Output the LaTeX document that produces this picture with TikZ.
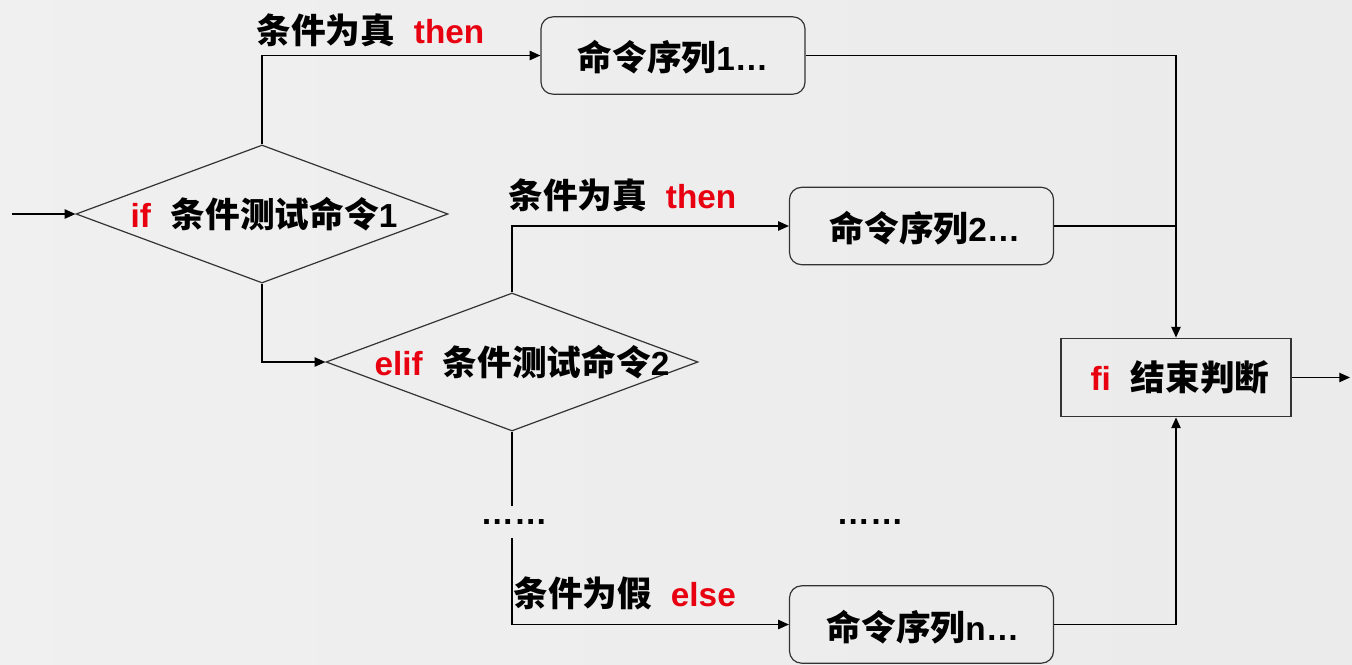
\documentclass[tikz,border=0pt]{standalone}
\usepackage{fontspec}
\setmainfont{Liberation Sans}
\newfontfamily\cjk{Noto Sans CJK SC}[Scale=1.04]
\usepackage{tikz}
\usetikzlibrary{shapes}
\usetikzlibrary{arrows.meta}
\usetikzlibrary{positioning}
\definecolor{kwred}{RGB}{232,0,16}
\newcommand \zh [1] {{\cjk #1}}
\newcommand \kw [1] {{\color{kwred}#1}}
\tikzstyle{cond}=[diamond,draw=black!80,inner sep=0mm,minimum width=279pt,minimum height=103.5pt]
\tikzstyle{cmd}=[rectangle,rounded corners=9pt,draw=black!80,minimum width=198pt,minimum height=58pt]
\tikzstyle{endbox}=[rectangle,draw=black!80,minimum width=172.5pt,minimum height=59pt]
\tikzstyle{txt}=[font=\bfseries\fontsize{25}{30}\selectfont,inner sep=0mm]
\tikzstyle{arrow}=[-{Triangle[length=8pt,width=7pt]}]
\tikzset{every picture/.style={
    line width=0.9pt
  }
}

\begin{document}
\begin{tikzpicture}[x=0.75pt,y=-0.75pt]
        \shade[left color=gray!12,middle color=gray!3,right color=gray!16] (0,0) rectangle (1352,664);
        \useasboundingbox (0,0) rectangle (1352,664);
        % tests
        \node[cond] at (262,214) (if1) {};
        \node[txt] at (264,214) (if1txt) {\kw{if}\hspace{15pt}\zh{条件测试命令}1};
        \node[cond] at (512,362) (elif2) {};
        \node[txt] at (522,362) (elif2txt) {\kw{elif}\hspace{15pt}\zh{条件测试命令}2};
        % commands
        \node[cmd] at (673,55.5) (cmd1) {};
        \node[txt] at (673,57) (cmd1txt) {\zh{命令序列}1…};
        \node[cmd] at (921.5,226) (cmd2) {};
        \node[txt] at (925,228) (cmd2txt) {\zh{命令序列}2…};
        \node[cmd] at (921.5,624.5) (cmdn) {};
        \node[txt] at (923,627) (cmdntxt) {\zh{命令序列}n…};
        \node[endbox] at (1176,377.5) (fi) {};
        \node[txt] at (1180,377) (fitxt) {\kw{fi}\hspace{15pt}\zh{结束判断}};
        \node[txt,minimum height=22.5pt] at (514,522) (dotsA) {……};
        \node[txt] at (870,522) (dotsB) {……};
        % branch labels
        \node[txt,anchor=west] at (256,30) (lbl1) {\zh{条件为真}\hspace{14pt}\kw{then}};
        \node[txt,anchor=west] at (508,195) (lbl2) {\zh{条件为真}\hspace{14pt}\kw{then}};
        \node[txt,anchor=west] at (513,593) (lbl3) {\zh{条件为假}\hspace{14pt}\kw{else}};
        \coordinate (start) at (12,214);
        \coordinate (exit) at (1350,377.5);
        \draw[arrow] (start) -- (if1.west);
        \draw[arrow] (if1.north) |- (cmd1.west);
        \draw[arrow] (if1.south) |- (elif2.west);
        \draw[arrow] (elif2.north) |- (cmd2.west);
        \draw (elif2.south) -- (elif2.south |- dotsA.north);
        \draw[arrow] (elif2.south |- dotsA.south) |- (cmdn.west);
        \draw[arrow] (cmd1.east) -| (fi.north);
        \draw (cmd2.east) -- (cmd2.east -| fi.north);
        \draw[arrow] (cmdn.east) -| (fi.south);
        \draw[arrow] (fi.east) -- (exit);
      \end{tikzpicture}
\end{document}
